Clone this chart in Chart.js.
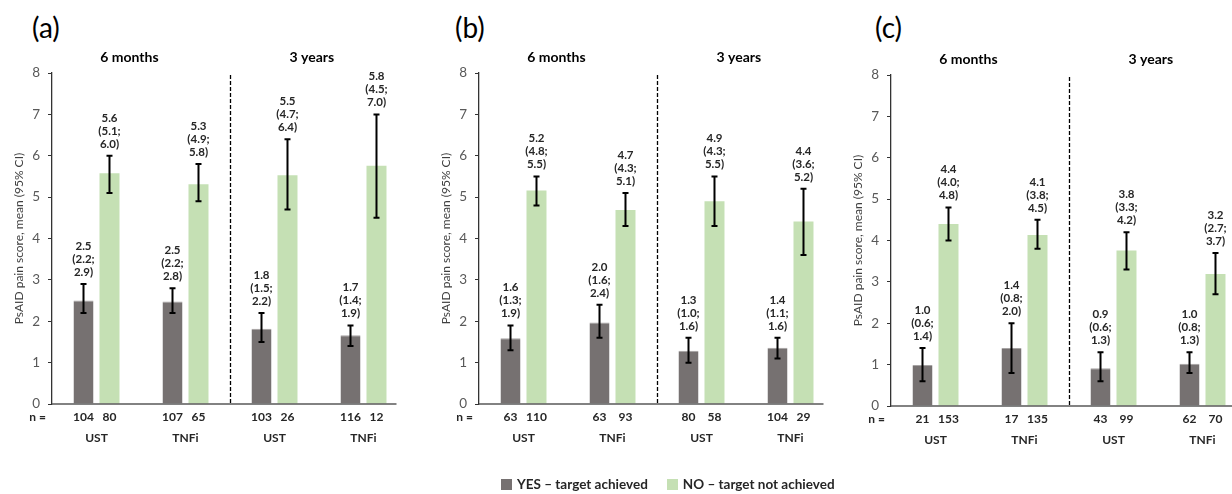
<!DOCTYPE html>
<html>
<head>
<meta charset="utf-8">
<script src="https://cdn.jsdelivr.net/npm/chart.js@4"></script>
<style>
    body { margin: 0; width: 1232px; height: 494px; overflow: hidden; background: #fff; position: relative; font-family: Lato, sans-serif; }
    canvas { position: absolute; top: 0; }
    .letter { position: absolute; top: 10px; font-size: 28px; color: #000; }
    .legend { position: absolute; left: 501px; top: 476px; display: flex; font-weight: bold; font-size: 13.5px; color: #262626; }
    .legend span { display: inline-flex; align-items: center; margin-right: 19px; }
    .legend i { display: inline-block; width: 11px; height: 11px; margin-right: 5px; }
</style>
</head>
<body>
<div class="letter" style="left:32px">(a)</div>
<div class="letter" style="left:455px">(b)</div>
<div class="letter" style="left:875px">(c)</div>
<canvas id="panelA" width="427" height="494" style="left:0px"></canvas>
<canvas id="panelB" width="412" height="494" style="left:427px"></canvas>
<canvas id="panelC" width="412" height="494" style="left:839px; top:2px"></canvas>
<div class="legend">
    <span><i style="background:#767171"></i>YES – target achieved</span>
    <span><i style="background:#C5E0B4"></i>NO – target not achieved</span>
</div>
<script>
const categories = ['UST', 'TNFi', 'UST', 'TNFi'];
const periods = ['6 months', '3 years'];
const seriesNames = ['YES – target achieved', 'NO – target not achieved'];
const yTicks = [0, 1, 2, 3, 4, 5, 6, 7, 8];

// (a)
const aYesMean = [2.50, 2.48, 1.82, 1.66];
const aYesLow = [2.2, 2.2, 1.5, 1.4];
const aYesHigh = [2.9, 2.8, 2.2, 1.9];
const aNoMean = [5.58, 5.31, 5.53, 5.76];
const aNoLow = [5.1, 4.9, 4.7, 4.5];
const aNoHigh = [6.0, 5.8, 6.4, 7.0];
const aYesN = [104, 107, 103, 116];
const aNoN = [80, 65, 26, 12];

// (b)
const bYesMean = [1.59, 1.97, 1.29, 1.36];
const bYesLow = [1.3, 1.6, 1.0, 1.1];
const bYesHigh = [1.9, 2.4, 1.6, 1.6];
const bNoMean = [5.16, 4.69, 4.90, 4.41];
const bNoLow = [4.8, 4.3, 4.3, 3.6];
const bNoHigh = [5.5, 5.1, 5.5, 5.2];
const bYesN = [63, 63, 80, 104];
const bNoN = [110, 93, 58, 29];

// (c)
const cYesMean = [0.99, 1.40, 0.91, 1.02];
const cYesLow = [0.6, 0.8, 0.6, 0.8];
const cYesHigh = [1.4, 2.0, 1.3, 1.3];
const cNoMean = [4.40, 4.13, 3.76, 3.19];
const cNoLow = [4.0, 3.8, 3.3, 2.7];
const cNoHigh = [4.8, 4.5, 4.2, 3.7];
const cYesN = [21, 17, 43, 62];
const cNoN = [153, 135, 99, 70];

const colors = ['#767171', '#C5E0B4'];
const textColor = '#262626';

// error bars, value labels, n row, period headers, separator
const annotate = {
    id: 'annotate',
    afterDatasetsDraw(chart, args, opts) {
        const ctx = chart.ctx;
        const area = chart.chartArea;
        const x = chart.scales.x;
        const y = chart.scales.y;
        ctx.save();

        // x axis line stops a little after the last bar
        const last = chart.getDatasetMeta(1).data[3];
        ctx.strokeStyle = '#595959';
        ctx.lineWidth = 1.5;
        ctx.beginPath();
        ctx.moveTo(area.left, area.bottom);
        ctx.lineTo(last.x + last.width / 2 + 10, area.bottom);
        ctx.stroke();

        // dashed separator between 6 months and 3 years
        const sx = Math.round(x.getPixelForValue(1.5)) + 0.5;
        ctx.setLineDash([4, 2]);
        ctx.lineWidth = 1.3;
        ctx.strokeStyle = '#000';
        ctx.beginPath();
        ctx.moveTo(sx, area.top + 2);
        ctx.lineTo(sx, area.bottom);
        ctx.stroke();
        ctx.setLineDash([]);

        // headers
        ctx.fillStyle = '#000';
        ctx.font = 'bold 14px Lato';
        ctx.textAlign = 'center';
        ctx.textBaseline = 'middle';
        ctx.fillText(periods[0], x.getPixelForValue(0.37), 57);
        ctx.fillText(periods[1], x.getPixelForValue(2.42), 57);

        // n row
        ctx.font = 'bold 12px Lato';
        ctx.fillStyle = textColor;
        ctx.textAlign = 'right';
        ctx.fillText('n =', area.left - 6, area.bottom + 13);
        ctx.textAlign = 'center';

        opts.low.forEach((low, di) => {
            const high = opts.high[di];
            const meta = chart.getDatasetMeta(di);
            const means = chart.data.datasets[di].data;
            meta.data.forEach((bar, i) => {
                const yl = y.getPixelForValue(low[i]);
                const yh = y.getPixelForValue(high[i]);
                ctx.strokeStyle = '#000';
                ctx.lineWidth = 2;
                ctx.beginPath();
                ctx.moveTo(bar.x, yl);
                ctx.lineTo(bar.x, yh);
                ctx.moveTo(bar.x - 3, yl);
                ctx.lineTo(bar.x + 3, yl);
                ctx.moveTo(bar.x - 3, yh);
                ctx.lineTo(bar.x + 3, yh);
                ctx.stroke();

                ctx.font = 'bold 11.5px Lato';
                ctx.fillStyle = textColor;
                ctx.textBaseline = 'alphabetic';
                const base = yh - 8;
                ctx.fillText(means[i].toFixed(1), bar.x, base - 26);
                ctx.fillText('(' + low[i].toFixed(1) + ';', bar.x, base - 13);
                ctx.fillText(high[i].toFixed(1) + ')', bar.x, base);

                ctx.font = 'bold 12px Lato';
                ctx.textBaseline = 'middle';
                ctx.fillText(String(opts.n[di][i]), bar.x, area.bottom + 13);
            });
        });
        ctx.restore();
    }
};

const makePanel = (id, yesMean, noMean, low, high, n) => {
    const canvas = document.getElementById(id);
    const right = canvas.width - 356 - 52;
    new Chart(canvas, {
        type: 'bar',
        data: {
            labels: categories,
            datasets: [
                { label: seriesNames[0], data: yesMean, backgroundColor: colors[0], borderColor: '#a6a3a3', borderWidth: { top: 1 } },
                { label: seriesNames[1], data: noMean, backgroundColor: colors[1] }
            ]
        },
        options: {
            responsive: false,
            animation: false,
            devicePixelRatio: 1,
            categoryPercentage: 0.584,
            barPercentage: 0.77,
            layout: { padding: { top: 73, right: right, bottom: 0, left: 0 } },
            plugins: {
                legend: { display: false },
                tooltip: { enabled: false },
                annotate: { low: low, high: high, n: n }
            },
            scales: {
                x: {
                    grid: { display: false, drawTicks: false },
                    border: { display: false },
                    ticks: { color: textColor, font: { family: 'Lato', size: 12, weight: 'bold' }, padding: 27 },
                    afterFit: (scale) => { scale.height = 90; }
                },
                y: {
                    min: 0,
                    max: 8,
                    afterBuildTicks: (scale) => { scale.ticks = yTicks.map(v => ({ value: v })); },
                    grid: { drawOnChartArea: false, tickLength: 4, color: '#333' },
                    border: { color: '#333', width: 1.3 },
                    ticks: { color: '#595959', font: { family: 'Lato', size: 13.5 }, padding: 8 },
                    title: {
                        display: true,
                        text: 'PsAID pain score, mean (95% CI)',
                        color: '#404040',
                        font: { family: 'Lato', size: 12 },
                        padding: { top: 12, bottom: 0 }
                    },
                    afterFit: (scale) => { scale.width = 52; }
                }
            }
        },
        plugins: [annotate]
    });
};

makePanel('panelA', aYesMean, aNoMean, [aYesLow, aNoLow], [aYesHigh, aNoHigh], [aYesN, aNoN]);
makePanel('panelB', bYesMean, bNoMean, [bYesLow, bNoLow], [bYesHigh, bNoHigh], [bYesN, bNoN]);
makePanel('panelC', cYesMean, cNoMean, [cYesLow, cNoLow], [cYesHigh, cNoHigh], [cYesN, cNoN]);
</script>
</body>
</html>
